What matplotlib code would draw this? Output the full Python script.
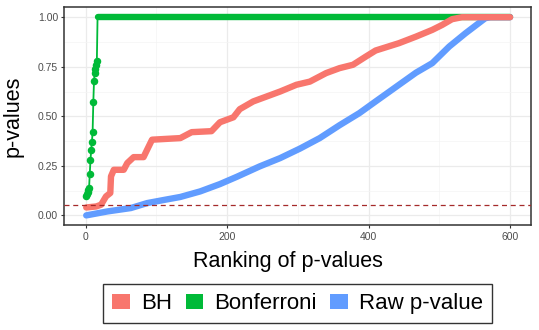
import matplotlib
matplotlib.use("Agg")
import matplotlib.pyplot as plt
from matplotlib.patches import Patch
from matplotlib.ticker import MultipleLocator

plt.rcParams['font.family'] = ['Liberation Sans', 'DejaVu Sans']

# ---- data (rank, value) ----
raw_rank = [1, 31, 64, 87, 111, 134, 162, 190, 214, 246, 275, 303, 331, 359, 387,
            410, 443, 467, 490, 514, 537, 565, 572, 600]
raw_vals = [0.0, 0.02, 0.037, 0.062, 0.078, 0.093, 0.121, 0.158, 0.195, 0.247, 0.289,
            0.337, 0.39, 0.455, 0.516, 0.575, 0.659, 0.72, 0.768, 0.852, 0.919, 0.995,
            1.0, 1.0]

bh_rank = [1, 15, 22, 29, 35, 36, 40, 54, 59, 68, 82, 87, 94, 134, 150, 178, 190,
           209, 218, 237, 256, 275, 298, 317, 340, 359, 378, 396, 410, 443, 467,
           490, 504, 518, 532, 600]
bh_vals = [0.04, 0.045, 0.054, 0.096, 0.113, 0.197, 0.23, 0.23, 0.264, 0.294, 0.294,
           0.331, 0.382, 0.39, 0.42, 0.425, 0.47, 0.495, 0.536, 0.575, 0.6, 0.625,
           0.659, 0.675, 0.718, 0.743, 0.76, 0.801, 0.832, 0.869, 0.902, 0.936,
           0.961, 0.99, 1.0, 1.0]

bonf_rank = [1, 2, 3, 4, 5, 6, 7, 8, 9, 10, 11, 12, 13, 14, 15, 16, 17, 600]
bonf_vals = [0.10, 0.11, 0.12, 0.13, 0.14, 0.21, 0.28, 0.33, 0.37, 0.42, 0.57,
             0.68, 0.72, 0.74, 0.76, 0.78, 1.0, 1.0]

series = ["BH", "Bonferroni", "Raw p-value"]
colors = {"BH": "#F8766D", "Bonferroni": "#00BA38", "Raw p-value": "#619CFF"}
threshold = 0.05

fig = plt.figure(figsize=(5.39, 3.30), dpi=100)
ax = fig.add_axes([64.3/539, 1-225.3/330, (531.3-64.3)/539, (225.3-7.3)/330])

thick = 4.6
# Bonferroni: sparse early points (thin line + markers), dense plateau (thick)
ax.plot(bonf_rank, bonf_vals, color=colors["Bonferroni"], lw=1.3, zorder=2)
ax.plot(bonf_rank[:-2], bonf_vals[:-2], 'o', color=colors["Bonferroni"], ms=4.4, zorder=2)
ax.plot(bonf_rank[-2:], bonf_vals[-2:], color=colors["Bonferroni"], lw=thick,
        solid_capstyle='round', zorder=2)
# Raw p-values (dense points)
ax.plot(raw_rank, raw_vals, color=colors["Raw p-value"], lw=thick,
        solid_capstyle='round', solid_joinstyle='round', zorder=3)
# BH (dense points)
ax.plot(bh_rank, bh_vals, color=colors["BH"], lw=thick,
        solid_capstyle='round', solid_joinstyle='round', zorder=4)

ax.axhline(threshold, color="#A52A2A", lw=0.9, ls=(0, (4, 3)), zorder=5)

ax.set_xlim(-30, 630)
ax.set_ylim(-0.05, 1.05)
ax.set_xticks([0, 200, 400, 600])
ax.set_yticks([0, 0.25, 0.5, 0.75, 1.0])
ax.set_yticklabels(["0.00", "0.25", "0.50", "0.75", "1.00"])
ax.xaxis.set_minor_locator(MultipleLocator(100))
ax.yaxis.set_minor_locator(MultipleLocator(0.125))
ax.grid(True, which='major', color='#EBEBEB', lw=0.9, zorder=0)
ax.grid(True, which='minor', color='#F4F4F4', lw=0.5, zorder=0)
ax.set_axisbelow(True)
for s in ax.spines.values():
    s.set_color('#333333')
    s.set_linewidth(1.1)
ax.tick_params(which='major', length=2.5, width=0.8, color='#333333',
               labelsize=7.5, labelcolor='#4D4D4D', pad=2)
ax.tick_params(which='minor', length=0)

ax.set_xlabel("Ranking of p-values", fontsize=15.5, color='black')
ax.xaxis.set_label_coords((288-64.3)/467, -0.12)
ax.set_ylabel("p-values", fontsize=15.5, color='black')
ax.yaxis.set_label_coords(-0.088, 0.5)

handles = [Patch(facecolor=colors[s], edgecolor='none', label=s) for s in series]
leg = fig.legend(handles=handles, loc='center', bbox_to_anchor=(297.8/539, 1-303.6/330),
                 ncol=3, frameon=True, fancybox=False, fontsize=16,
                 handlelength=0.8, handleheight=0.7, handletextpad=0.5,
                 columnspacing=0.6, borderpad=0.4)
leg.get_frame().set_edgecolor('black')
leg.get_frame().set_linewidth(1.0)

fig.savefig("out.png", dpi=100)
